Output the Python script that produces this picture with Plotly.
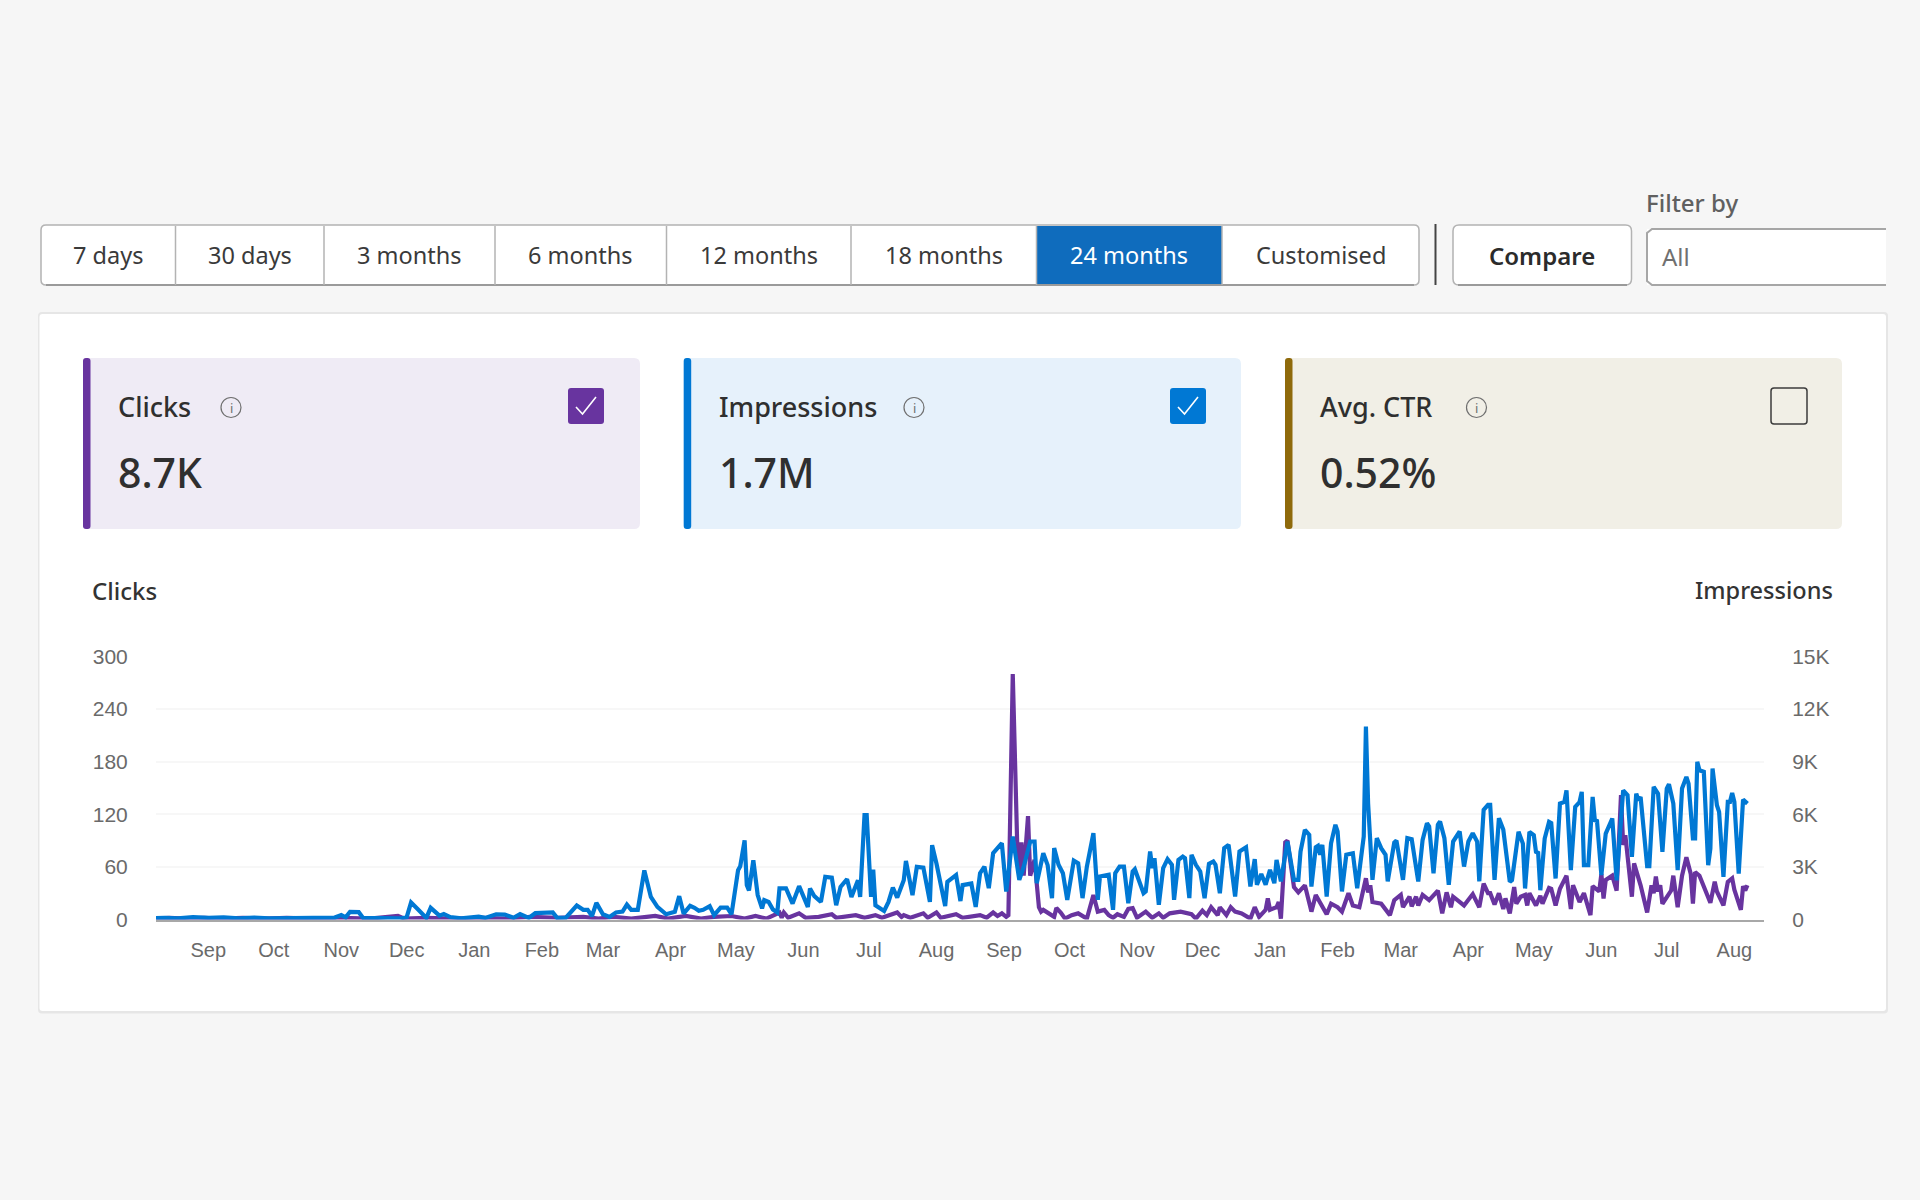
import pandas as pd
import plotly.graph_objects as go

# dashboard tabs and cards
range_labels = ["7 days", "30 days", "3 months", "6 months", "12 months", "18 months", "24 months", "Customised"]
card_titles = ["Clicks", "Impressions", "Avg. CTR"]
card_values = ["8.7K", "1.7M", "0.52%"]

# axis ticks
month_ticks = ["2022-09-01", "2022-10-01", "2022-11-01", "2022-12-01", "2023-01-01", "2023-02-01", "2023-03-01",
               "2023-04-01", "2023-05-01", "2023-06-01", "2023-07-01", "2023-08-01", "2023-09-01", "2023-10-01",
               "2023-11-01", "2023-12-01", "2024-01-01", "2024-02-01", "2024-03-01", "2024-04-01", "2024-05-01",
               "2024-06-01", "2024-07-01", "2024-08-01"]
month_labels = ["Sep", "Oct", "Nov", "Dec", "Jan", "Feb", "Mar", "Apr", "May", "Jun", "Jul", "Aug",
                "Sep", "Oct", "Nov", "Dec", "Jan", "Feb", "Mar", "Apr", "May", "Jun", "Jul", "Aug"]
clicks_ticks = [0, 60, 120, 180, 240, 300]
impressions_ticks = [0, 3000, 6000, 9000, 12000, 15000]
impressions_labels = ["0", "3K", "6K", "9K", "12K", "15K"]

# series: day since the first date, then value at that day
first_day = "2022-08-08"
impressions_days = [
    0, 4, 10, 17, 24, 31, 38, 45, 52, 60, 68, 76, 82, 85, 87, 89, 91, 93, 95, 100, 106, 112, 115, 117, 120, 124, 126,
    130, 132, 135, 140, 148, 151, 156, 160, 164, 167, 171, 174, 178, 182, 184, 188, 193, 196, 198, 200, 202, 205, 208,
    211, 214, 216, 218, 221, 224, 227, 230, 234, 238, 240, 242, 245, 247, 249, 251, 254, 256, 259, 262, 264, 267, 268,
    270, 271, 272, 274, 276, 278, 279, 281, 283, 285, 286, 289, 292, 295, 299, 300, 302, 305, 307, 310, 312, 314, 317,
    319, 322, 323, 325, 326, 328, 329, 330, 334, 336, 338, 340, 343, 344, 347, 349, 352, 355, 356, 358, 362, 363, 367,
    369, 370, 374, 376, 378, 380, 382, 384, 386, 388, 390, 393, 396, 398, 401, 403, 404, 406, 407, 409, 411, 412, 414,
    416, 418, 421, 423, 425, 427, 430, 432, 433, 437, 439, 440, 442, 444, 446, 448, 449, 453, 454, 456, 457, 458, 460,
    462, 464, 466, 467, 469, 471, 472, 474, 475, 477, 479, 481, 483, 485, 486, 488, 490, 492, 493, 495, 497, 500, 502,
    504, 505, 507, 509, 511, 513, 514, 516, 519, 522, 524, 525, 527, 529, 530, 532, 533, 534, 535, 537, 539, 541, 542,
    544, 546, 549, 551, 554, 555, 556, 558, 560, 562, 564, 565, 568, 569, 572, 574, 576, 579, 581, 583, 584, 586, 588,
    589, 591, 593, 595, 598, 600, 602, 604, 606, 607, 609, 611, 612, 614, 616, 618, 621, 622, 625, 627, 628, 630, 632,
    633, 634, 635, 637, 639, 640, 642, 644, 646, 647, 649, 651, 653, 654, 655, 657, 659, 660, 661, 663, 665, 668, 670,
    673, 675, 677, 679, 680, 681, 684, 685, 687, 689, 691, 693, 694, 696, 698, 700, 702, 703, 705, 706, 707, 708, 710,
    712, 713, 714, 716, 717, 719, 721, 722, 723, 724, 726, 728, 730]
impressions = [
    80, 100, 60, 130, 90, 120, 70, 110, 70, 90, 60, 80, 110, 250, 120, 440, 450, 420, 90, 70, 90, 60, 130, 970, 600, 90, 665,
    220, 310, 140, 70, 160, 90, 300, 280, 100, 310, 90, 360, 360, 400, 90, 110, 800, 550, 550, 200, 950, 300, 150,
    400, 450, 850, 550, 550, 2800, 1290, 720, 300, 440, 1330, 340, 780, 670, 500, 550, 760, 250, 680, 680, 300, 2810, 3040,
    4520, 1960, 1650, 3380, 1390, 630, 1100, 1000, 570, 400, 1770, 1770, 910, 1900, 720, 1770, 1330, 1000, 2430, 2390, 815, 1860, 2300,
    1290, 2240, 1290, 5950, 5950, 1290, 2850, 815, 490, 1000, 1820, 1250, 2240, 3340, 1390, 3000, 2960, 1000, 4240, 3190, 760, 2150, 2530,
    1050, 1960, 2050, 720, 2640, 3020, 1790, 3780, 4070, 4350, 1600, 4730, 2260, 3000, 4450, 4450, 2070, 3210, 3780, 3100, 1220, 4070, 3120,
    2640, 1120, 3360, 3210, 1220, 3020, 4920, 1120, 2450, 2550, 550, 2640, 3020, 3020, 930, 2740, 2870, 1500, 1600, 3880, 2930, 3500, 840,
    2930, 3440, 3120, 1120, 3400, 3590, 3500, 1220, 3690, 3120, 2740, 1220, 3170, 3310, 3120, 1500, 4070, 4260, 3210, 1310, 3880, 4120, 1880,
    3440, 1980, 2600, 1980, 2830, 2070, 3400, 2170, 4450, 2260, 2260, 3880, 5110, 4830, 1880, 4120, 4200, 3690, 4260, 1310, 4350, 5400, 5020,
    1600, 3690, 3780, 1790, 4730, 11000, 6630, 2260, 4640, 4070, 3690, 2170, 4390, 4500, 2260, 4640, 4580, 2170, 4540, 5490, 5300, 2640, 5400,
    5590, 4640, 1980, 4450, 5020, 3020, 4450, 4920, 4450, 2170, 6250, 6540, 6540, 2260, 5780, 5130, 2150, 2250, 5000, 4330, 1770, 5000, 4810,
    3860, 3800, 1670, 4620, 5570, 5500, 2340, 6610, 6700, 7370, 2810, 6420, 6700, 7280, 3100, 3100, 6990, 5660, 5620, 2530, 4900, 5760, 2240,
    7370, 7090, 3570, 7180, 6800, 6990, 3040, 3040, 7560, 7170, 3860, 7470, 7710, 6610, 2810, 7470, 8130, 7750, 4620, 4620, 8990, 8510, 8420,
    3100, 4050, 8610, 6520, 6140, 2430, 6710, 6710, 7220, 6710, 2620, 6840, 6610]

clicks_days = [
    0, 6, 14, 22, 30, 40, 50, 60, 72, 85, 98, 111, 114, 124, 136, 150, 160, 172, 184, 196, 203, 210, 218, 224, 229, 235,
    243, 250, 256, 264, 270, 275, 280, 286, 287, 288, 290, 295, 298, 304, 310, 312, 321, 325, 330, 333, 340, 342, 343,
    346, 352, 354, 358, 360, 367, 370, 378, 381, 384, 386, 388, 390, 391, 393, 395, 396, 397, 398, 399, 400, 401, 403,
    405, 406, 407, 412, 413, 415, 417, 420, 423, 427, 430, 432, 435, 437, 439, 441, 444, 446, 448, 450, 454, 457, 460,
    462, 465, 470, 475, 477, 480, 482, 484, 487, 488, 491, 493, 495, 498, 502, 504, 506, 509, 510, 511, 514, 515, 516,
    518, 519, 522, 524, 527, 530, 532, 535, 537, 539, 542, 544, 547, 549, 552, 555, 556, 557, 558, 562, 566, 568, 571,
    572, 575, 576, 578, 579, 581, 584, 588, 590, 592, 594, 595, 600, 604, 607, 609, 611, 612, 614, 616, 618, 619, 621,
    623, 624, 626, 628, 629, 630, 633, 635, 636, 639, 640, 642, 644, 647, 649, 650, 653, 655, 658, 659, 662, 663, 664,
    665, 668, 670, 672, 673, 674, 677, 678, 681, 684, 686, 687, 688, 689, 690, 691, 695, 696, 698, 700, 702, 704, 705,
    706, 708, 713, 715, 716, 719, 721, 723, 724, 727, 728, 729, 730]
clicks = [
    1, 2, 1, 2, 1, 2, 1, 2, 1, 2, 1, 4, 1, 2, 1, 2, 1, 3, 2, 3, 1, 3, 1, 3, 4, 1,
    4, 1, 3, 4, 1, 4, 1, 8, 2, 8, 2, 7, 2, 3, 6, 2, 5, 2, 5, 2, 8, 3, 5,
    2, 7, 2, 8, 2, 6, 2, 5, 2, 8, 4, 7, 3, 5, 280, 90, 48, 88, 50, 88, 118, 50, 68,
    14, 9, 11, 3, 13, 8, 1, 5, 7, 1, 28, 9, 11, 5, 2, 6, 3, 12, 13, 2, 9, 2, 7,
    2, 7, 9, 6, 1, 10, 5, 14, 5, 14, 5, 14, 9, 7, 1, 14, 3, 11, 24, 11, 14, 20, 1,
    88, 90, 37, 31, 39, 9, 28, 16, 6, 18, 14, 9, 30, 16, 14, 47, 31, 39, 20, 18, 5, 22, 28,
    14, 26, 15, 26, 16, 28, 22, 33, 7, 31, 14, 26, 16, 29, 14, 41, 30, 30, 17, 30, 12, 24, 7,
    37, 18, 26, 28, 16, 30, 16, 27, 18, 36, 35, 16, 35, 50, 12, 39, 20, 30, 5, 38, 32, 52, 24,
    45, 50, 33, 142, 85, 96, 26, 64, 39, 8, 39, 30, 49, 32, 39, 18, 33, 50, 14, 50, 71, 52, 18,
    54, 50, 19, 43, 32, 16, 43, 47, 34, 11, 38, 33, 39]

assert len(impressions_days) == len(impressions), (len(impressions_days), len(impressions))
assert len(clicks_days) == len(clicks), (len(clicks_days), len(clicks))

BLUE = "#0078d4"
PURPLE = "#68349f"
GOLD = "#8f6a0b"
INK = "#2f2f2f"
WIDTH, HEIGHT = 1920, 1200


def fx(px):
    return px / WIDTH


def fy(py):
    return 1 - py / HEIGHT


def rect(x0, y0, x1, y1, fill, line="rgba(0,0,0,0)", width=0):
    return dict(type="rect", xref="paper", yref="paper", x0=fx(x0), x1=fx(x1), y0=fy(y0), y1=fy(y1),
                fillcolor=fill, line=dict(color=line, width=width), layer="below")


def rounded(x0, y0, x1, y1, r, fill, line="rgba(0,0,0,0)", width=0):
    p = (f"M {fx(x0 + r)} {fy(y0)} L {fx(x1 - r)} {fy(y0)} Q {fx(x1)} {fy(y0)} {fx(x1)} {fy(y0 + r)} "
         f"L {fx(x1)} {fy(y1 - r)} Q {fx(x1)} {fy(y1)} {fx(x1 - r)} {fy(y1)} L {fx(x0 + r)} {fy(y1)} "
         f"Q {fx(x0)} {fy(y1)} {fx(x0)} {fy(y1 - r)} L {fx(x0)} {fy(y0 + r)} Q {fx(x0)} {fy(y0)} {fx(x0 + r)} {fy(y0)} Z")
    return dict(type="path", xref="paper", yref="paper", path=p, fillcolor=fill,
                line=dict(color=line, width=width), layer="below")


def polyline(points, color, width):
    p = "M " + " L ".join(f"{fx(x)} {fy(y)}" for x, y in points)
    return dict(type="path", xref="paper", yref="paper", path=p, line=dict(color=color, width=width), layer="below")


def label(x, y, text, size, color=INK, anchor="left", family="Noto Sans", weight=400):
    return dict(xref="paper", yref="paper", x=fx(x), y=fy(y), text=text, showarrow=False, xanchor=anchor,
                yanchor="middle", font=dict(family=family, size=size, color=color, weight=weight))


shapes = []
notes = []

# range buttons
edges = [41, 175.5, 324, 495, 666.5, 851, 1036.5, 1222, 1419]
shapes.append(rounded(41, 225, 1419, 285, 5, "#ffffff", "#b3b3b3", 1.5))
shapes.append(rect(1036.5, 226, 1222, 284.5, "#0f6cbd"))
shapes.append(polyline([(46, 285), (1414, 285)], "#9a9a9a", 2))
for e in edges[1:-1]:
    shapes.append(polyline([(e, 226), (e, 285)], "#b3b3b3", 1.5))
for i, text in enumerate(range_labels):
    colour = "#ffffff" if text == "24 months" else "#3a3a3a"
    notes.append(label((edges[i] + edges[i + 1]) / 2, 255, text, 23.5, colour, "center"))

shapes.append(polyline([(1435.5, 224), (1435.5, 285)], "#444444", 2))
shapes.append(rounded(1453, 225, 1631.5, 285, 6, "#ffffff", "#b3b3b3", 1.5))
shapes.append(polyline([(1458, 285), (1627, 285)], "#9a9a9a", 2))
notes.append(label(1542, 255, "Compare", 24, "#2b2b2b", "center", weight=600))

notes.append(label(1644, 202, "Filter by", 24, "#606060", weight=500))
shapes.append(rect(1647, 229, 1886, 285, "#ffffff"))
shapes.append(polyline([(1886, 229), (1652, 229), (1647, 233), (1647, 281), (1652, 285), (1886, 285)], "#a6a6a6", 2))
notes.append(label(1660, 257, "All", 24, "#707070"))

# white panel
shapes.append(rounded(38, 312, 1888, 1013.5, 4, "#e6e6e6"))
shapes.append(rounded(39.5, 314, 1886, 1011, 3, "#ffffff"))

# metric cards
card_left = [83, 683.7, 1285]
card_right = [640, 1241, 1842]
card_fill = ["#efebf5", "#e6f1fb", "#f1efe6"]
card_edge = [PURPLE, BLUE, GOLD]
info_x = [231, 914, 1476.5]
box_x = [568, 1170, 1771]
for i in range(3):
    shapes.append(rounded(card_left[i], 358, card_right[i], 529, 6, card_fill[i]))
    shapes.append(rounded(card_left[i], 358, card_left[i] + 7.5, 529, 3, card_edge[i]))
    notes.append(label(card_left[i] + 33, 407, card_titles[i], 27, weight=500))
    notes.append(label(card_left[i] + 33, 472, card_values[i], 41, weight=500))
    shapes.append(dict(type="circle", xref="paper", yref="paper", x0=fx(info_x[i] - 10), x1=fx(info_x[i] + 10),
                       y0=fy(417.5), y1=fy(397.5), line=dict(color="#6f6f6f", width=1.2), layer="below"))
    notes.append(label(info_x[i], 407.5, "i", 13, "#6f6f6f", "center"))
    if i < 2:
        shapes.append(rounded(box_x[i], 388, box_x[i] + 36, 424, 3, card_edge[i]))
        shapes.append(polyline([(box_x[i] + 8, 407), (box_x[i] + 14.5, 414), (box_x[i] + 28, 397)], "#ffffff", 1.6))
    else:
        shapes.append(rounded(box_x[i], 388, box_x[i] + 36, 424, 3, "rgba(0,0,0,0)", "#3c3c3c", 1.5))

notes.append(label(89.5, 590, "Clicks", 24, "#333333", weight=500))
notes.append(label(1835, 590, "Impressions", 23.5, "#333333", "right", weight=500))

start = pd.Timestamp(first_day)
impressions_x = start + pd.to_timedelta(impressions_days, unit="D")
clicks_x = start + pd.to_timedelta(clicks_days, unit="D")

fig = go.Figure()
fig.add_trace(go.Scatter(x=impressions_x, y=impressions, mode="lines", name="Impressions", yaxis="y2",
                         line=dict(color=BLUE, width=4.2), cliponaxis=False))
fig.add_trace(go.Scatter(x=clicks_x, y=clicks, mode="lines", name="Clicks",
                         line=dict(color=PURPLE, width=4.2), cliponaxis=False))

x_font = dict(family="Liberation Sans", size=20, color="#6a6a6a")
y_font = dict(family="Liberation Sans", size=21, color="#6a6a6a")
fig.update_layout(
    width=WIDTH, height=HEIGHT, margin=dict(l=0, r=0, t=0, b=0, autoexpand=False), showlegend=False,
    paper_bgcolor="#f6f6f6", plot_bgcolor="rgba(0,0,0,0)", shapes=shapes, annotations=notes,
    xaxis=dict(domain=[fx(156), fx(1764)], type="date", tickmode="array", tickvals=month_ticks, ticktext=month_labels,
               range=[start, start + pd.Timedelta(days=737.6)], showgrid=False, showline=True, linecolor="#a8a8a8",
               linewidth=1.5, ticks="outside", ticklen=12, tickcolor="rgba(0,0,0,0)", tickfont=x_font, automargin=False),
    yaxis=dict(domain=[fy(919.5), fy(656.5)], range=[0, 300], tickmode="array", tickvals=clicks_ticks,
               gridcolor="#f7f7f7", gridwidth=1.5, zeroline=False, ticks="outside", ticklen=23,
               tickcolor="rgba(0,0,0,0)", tickfont=y_font, automargin=False),
    yaxis2=dict(domain=[fy(919.5), fy(656.5)], range=[0, 15000], overlaying="y", side="right", anchor="x",
                tickmode="array", tickvals=impressions_ticks, ticktext=impressions_labels, showgrid=False,
                zeroline=False, ticks="outside", ticklen=23, tickcolor="rgba(0,0,0,0)", tickfont=y_font, automargin=False),
)

fig.write_html("out.html", config={"displayModeBar": False},
               post_script="document.body.style.margin='0';document.body.style.overflow='hidden';")
